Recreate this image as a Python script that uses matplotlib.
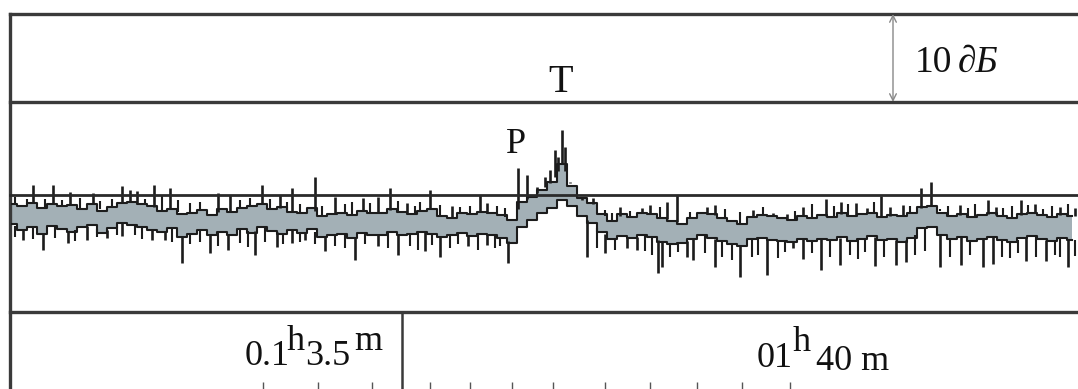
import numpy as np
import matplotlib
matplotlib.use("Agg")
import matplotlib.pyplot as plt

plt.rcParams['font.family'] = ['Liberation Serif', 'DejaVu Serif']

# recorder trace, level in dB relative to the reference line (0 dB)
# core band of the trace, sampled every 10 units of time axis
core_top = [-1.0, -1.2, -0.9, -1.5, -1.0, -1.3, -1.1, -1.6, -1.0, -1.8,
            -1.4, -0.9, -0.8, -1.0, -1.3, -1.8, -1.6, -2.2, -2.0, -1.7,
            -2.3, -1.6, -1.9, -1.5, -1.3, -1.0, -1.6, -1.4, -1.9, -2.0,
            -1.5, -2.4, -2.2, -2.0, -2.3, -1.8, -2.1, -2.0, -1.6, -1.9,
            -2.2, -1.8, -1.6, -2.4, -2.6, -2.0, -2.2, -1.9, -2.1, -2.3,
            -2.8, -0.8, -0.2, 0.6, 1.5, 3.5, 1.0, -0.3, -0.9, -2.2,
            -3.0, -2.2, -2.5, -2.0, -2.2, -2.6, -2.9, -3.3, -2.6, -2.0,
            -2.2, -2.6, -3.0, -3.3, -2.5, -2.3, -2.4, -2.6, -2.8, -2.4,
            -2.6, -2.3, -2.5, -2.1, -2.4, -2.2, -2.0, -2.5, -2.3, -2.4,
            -2.1, -1.4, -1.2, -2.0, -2.4, -2.2, -2.5, -2.3, -2.1, -2.4,
            -2.6, -2.2, -2.0, -2.3, -2.5, -2.2, -2.4]
core_bottom = [-3.3, -4.0, -3.6, -4.4, -3.5, -3.9, -4.2, -3.6, -3.4, -4.3,
               -3.7, -3.2, -3.4, -3.6, -4.0, -4.2, -3.8, -4.8, -4.4, -4.0,
               -4.6, -4.2, -4.5, -3.9, -4.3, -3.6, -4.1, -4.4, -4.0, -4.3,
               -3.9, -4.8, -4.5, -4.4, -4.9, -4.3, -4.6, -4.5, -4.2, -4.6,
               -4.4, -4.2, -4.4, -4.8, -4.6, -4.3, -4.7, -4.4, -4.5, -4.9,
               -5.5, -3.6, -2.8, -2.0, -1.5, -0.6, -1.3, -2.4, -3.2, -4.2,
               -5.0, -4.7, -4.9, -4.6, -4.8, -5.4, -5.6, -5.5, -5.0, -4.6,
               -4.9, -5.2, -5.6, -5.8, -5.0, -4.9, -5.1, -5.2, -5.4, -5.0,
               -5.2, -5.0, -5.1, -4.8, -5.2, -5.0, -4.7, -5.1, -5.0, -5.3,
               -4.9, -3.8, -3.6, -4.6, -5.0, -4.8, -5.2, -5.0, -4.8, -5.1,
               -5.3, -4.9, -4.7, -5.0, -5.2, -4.9, -5.1]

# large upward spikes: time position, peak level (dB)
up_t = [33, 53, 70, 93, 122, 130, 137, 154, 170, 218, 230, 262,
        280, 292, 315, 335, 363, 378, 390, 407, 430, 452, 480, 487,
        518, 527, 537, 545, 550, 555, 558, 562, 565, 570, 582, 593,
        620, 642, 650, 667, 677, 707, 715, 753, 773, 787, 803,
        826, 841, 856, 867, 881, 890, 903, 921, 931, 960, 988, 996,
        1021, 1035, 1060, 1075]
up_db = [1.1, 1.1, 0.3, 0.2, 1.0, 0.6, 0.4, 1.1, 0.8, 0.2, 0.0, 1.1,
         0.0, 0.8, 2.0, -0.2, -0.3, -0.2, 0.8, -0.9, 0.6, -1.3, 0.0, -0.9,
         3.1, 2.3, 0.9, 2.0, 2.8, 5.1, 4.3, 7.4, 5.5, 1.4, -0.6, -0.3,
         -1.4, -1.5, -1.1, -0.8, 0.0, -1.4, -1.1, -1.7, -2.0, -2.2, -1.4,
         -0.4, -0.8, -0.9, -1.5, -0.1, -1.4, -1.1, 0.8, 1.5, -1.1, -0.6, -1.4,
         -0.6, -1.0, -1.4, -1.5]

# small upward spikes
up2_t = [15, 27, 45, 62, 80, 100, 112, 145, 162, 178, 190, 200, 240, 250, 270,
         287, 300, 322, 345, 352, 370, 398, 415, 420, 440, 460, 470, 497, 505,
         605, 612, 630, 660, 690, 700, 725, 740, 763, 795, 812, 834, 848, 874,
         910, 940, 948, 968, 975, 1003, 1012, 1028, 1043, 1052, 1068]
up2_db = [-0.2, -0.5, -0.4, -0.6, -0.3, -0.7, -0.5, -0.4, 0.0, -0.6, -0.9, -0.8, -0.6, -0.3, -0.5,
          -0.8, -1.0, -1.2, -1.0, -0.8, -0.9, -0.7, -1.2, -0.8, -1.1, -1.4, -1.2, -1.3, -1.5,
          -1.7, -2.0, -1.8, -1.4, -1.9, -2.0, -1.6, -1.9, -1.4, -1.8, -1.0, -1.3, -1.0, -0.8,
          -1.3, -1.6, -1.2, -1.5, -1.0, -1.5, -1.2, -1.1, -1.6, -1.2, -1.0]

# large downward spikes: time position, dip level (dB)
down_t = [23, 43, 68, 87, 107, 122, 152, 165, 182, 210, 228, 255,
          277, 292, 305, 325, 355, 378, 398, 425, 440, 468, 487, 508,
          587, 605, 627, 637, 658, 662, 687, 693, 715, 740, 767, 793, 803,
          821, 840, 875, 896, 906, 940, 961, 983, 993, 1026, 1046, 1068]
down_db = [-5.1, -6.3, -5.5, -5.1, -4.9, -4.7, -5.1, -5.1, -7.7, -6.6, -6.3, -6.8,
           -5.9, -5.5, -5.1, -6.4, -7.4, -5.8, -6.8, -6.4, -7.0, -5.8, -5.7, -7.7,
           -7.0, -6.6, -6.0, -6.3, -8.9, -8.2, -7.0, -7.4, -8.2, -9.3, -9.1, -6.0, -7.3,
           -8.5, -8.0, -8.1, -8.0, -7.6, -8.2, -8.0, -8.2, -7.8, -7.5, -7.5, -8.2]

# small downward spikes
down2_t = [15, 33, 55, 75, 97, 117, 135, 142, 172, 190, 200, 218, 240, 248, 265,
           283, 300, 315, 335, 345, 365, 388, 410, 418, 432, 450, 458, 478, 495, 500,
           597, 615, 645, 652, 670, 678, 705, 722, 732, 752, 758, 778, 785,
           812, 830, 850, 858, 865, 884, 915, 925, 950, 970, 1002, 1010, 1018,
           1036, 1055, 1060, 1075]
down2_db = [-4.8, -5.0, -4.9, -5.2, -4.8, -4.5, -4.6, -5.0, -5.3, -5.6, -5.4, -5.8, -5.5, -5.9, -5.3,
            -5.6, -5.4, -5.6, -5.8, -6.0, -5.6, -6.0, -5.8, -6.2, -5.7, -6.0, -5.6, -6.2, -6.0, -5.8,
            -6.0, -6.3, -6.4, -6.8, -7.0, -6.5, -6.6, -7.0, -7.4, -7.0, -6.8, -7.2, -6.5,
            -6.6, -7.0, -6.8, -7.3, -6.5, -7.0, -6.8, -6.4, -7.0, -6.8, -7.0, -7.2, -6.6,
            -7.0, -6.8, -7.1, -6.9]

t = np.linspace(12, 1072, len(core_top))

fig = plt.figure(figsize=(10.78, 3.89), dpi=100)
ax = fig.add_axes([0, 0, 1, 1])
ax.set_xlim(0, 1078)
ax.set_ylim(-22.05, 22.16)
ax.axis('off')

frame = '#3a3a3a'
ink = '#1c1c1c'
top_db = 20.57
scale_db = 10.57
bot_db = -13.3
left_t = 10
split_t = 402

# frame of the recorder sheet
ax.plot([left_t, 1078], [top_db, top_db], color=frame, lw=2.4)
ax.plot([left_t, 1078], [scale_db, scale_db], color=frame, lw=2.4)
ax.plot([left_t, 1078], [bot_db, bot_db], color=frame, lw=2.4)
ax.plot([left_t, left_t], [top_db, -22.05], color=frame, lw=2.4)
ax.plot([split_t, split_t], [bot_db, -22.05], color=frame, lw=1.8)

# trace
ax.fill_between(t, core_bottom, core_top, step='mid', color='#a3b0b6', lw=0)
ax.step(t, core_top, where='mid', color=ink, lw=1.5)
ax.step(t, core_bottom, where='mid', color=ink, lw=1.5)
ax.vlines(up_t, np.interp(up_t, t, core_top), up_db, color=ink, lw=1.9)
ax.vlines(up2_t, np.interp(up2_t, t, core_top), up2_db, color=ink, lw=1.5)
ax.vlines(down_t, down_db, np.interp(down_t, t, core_bottom), color=ink, lw=1.9)
ax.vlines(down2_t, down2_db, np.interp(down2_t, t, core_bottom), color=ink, lw=1.5)

# reference line
ax.plot([left_t, 1078], [0, 0], color='#2a2a2a', lw=2.0)

# 10 dB scale arrow
ax.annotate('', xy=(893, top_db), xytext=(893, scale_db),
            arrowprops=dict(arrowstyle='<->', color='#888888', lw=1.0,
                            shrinkA=0, shrinkB=0, mutation_scale=12))
ax.text(915, 14.0, '10', fontsize=27, ha='left', va='baseline', color='#111111')
ax.text(958, 14.0, '∂Б', fontsize=27, ha='left', va='baseline', style='italic',
        color='#111111')

ax.text(561, 11.7, 'T', fontsize=29, ha='center', va='baseline', color='#111111')
ax.text(516, 4.8, 'P', fontsize=26, ha='center', va='baseline', color='#111111')

# time labels with raised unit letters
lab = dict(fontsize=26, va='baseline', ha='left', color='#111111')
ax.text(245, -19.3, '0.1', **lab)
ax.text(287, -17.6, 'h', **lab)
ax.text(305, -19.3, '3.5', **lab)
ax.text(354, -17.6, 'm', **lab)
ax.text(757, -19.5, '01', **lab)
ax.text(793, -17.7, 'h', **lab)
ax.text(816, -19.9, '40 m', **lab)

# bottom scale marks (cut by the edge)
marks_t = [263, 318, 372, 430, 470, 512, 553, 605, 650, 697, 742, 790]
ax.vlines(marks_t, -22.05, -21.3, color='#555555', lw=1.0)

fig.savefig('out.png', dpi=100)
